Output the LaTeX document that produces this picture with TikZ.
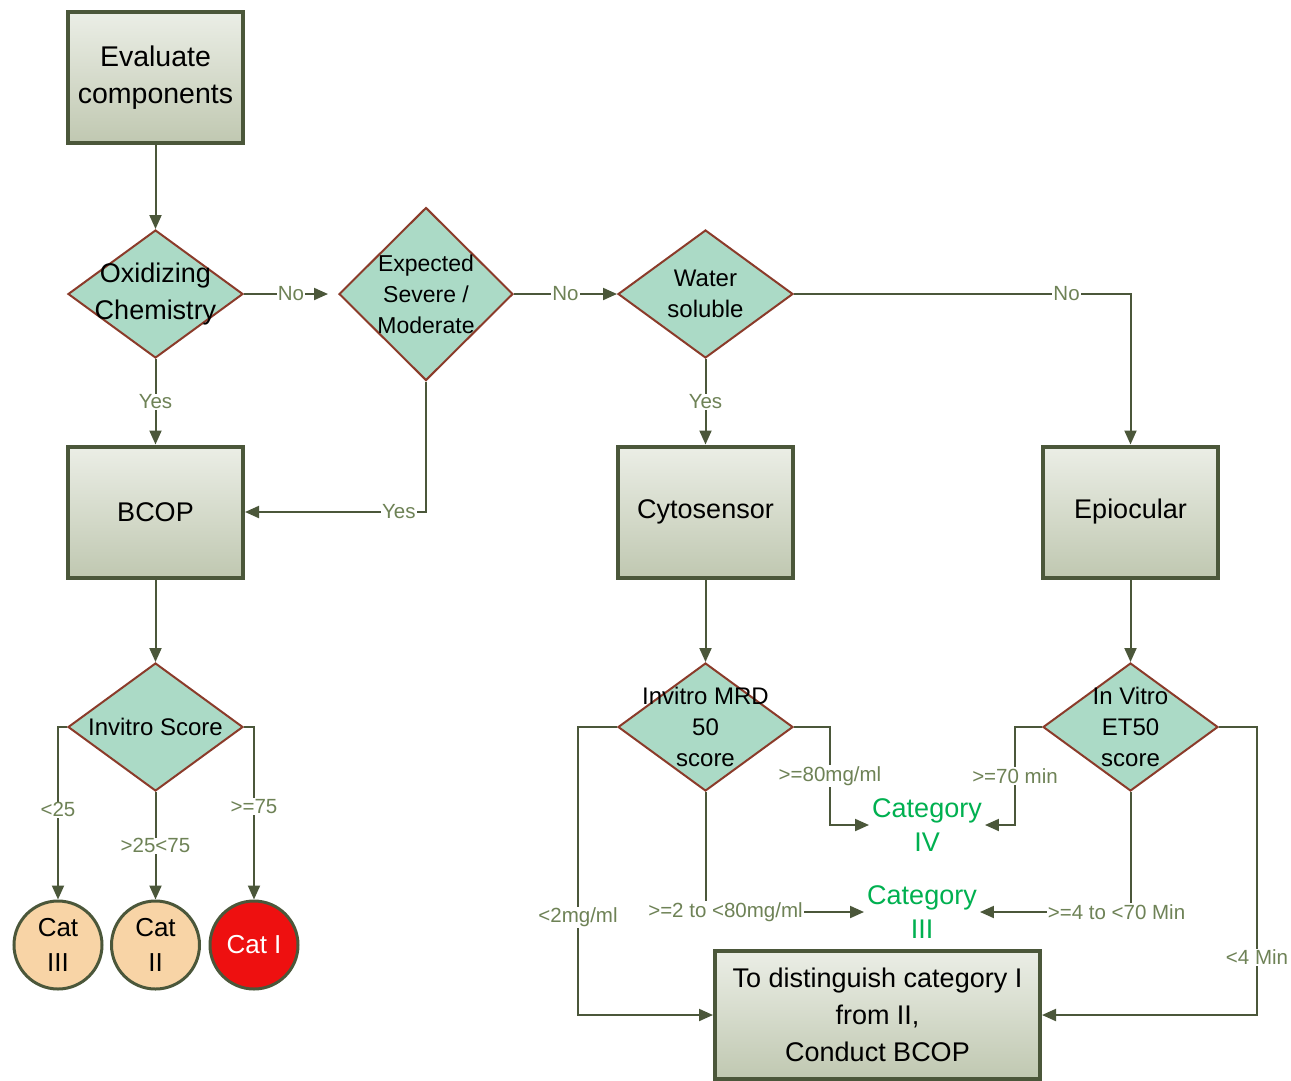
\documentclass[tikz,border=0pt]{standalone}
\usepackage{fontspec}
\setmainfont{Liberation Sans}
\usetikzlibrary{shapes.geometric,arrows.meta,calc}
\definecolor{edgec}{HTML}{4B573A}
\definecolor{labc}{HTML}{6E8256}
\definecolor{boxtop}{HTML}{EBEEE6}
\definecolor{boxbot}{HTML}{C0C8B1}
\definecolor{diac}{HTML}{ABDAC6}
\definecolor{diaedge}{HTML}{8B3B2A}
\definecolor{peach}{HTML}{F8D4A6}
\definecolor{catred}{HTML}{EE1010}
\definecolor{catgreen}{HTML}{00B050}
\newcommand\fsz[2]{\fontsize{#1}{#2}\selectfont}
\tikzset{
 procbox/.style={rectangle, draw=edgec, line width=4pt, top color=boxtop, bottom color=boxbot,
   minimum width=175pt, minimum height=131pt, align=center, inner sep=0pt, font=\fsz{27}{37}},
 decis/.style={diamond, draw=diaedge, line width=2pt, fill=diac, minimum width=175pt,
   minimum height=128pt, inner sep=0pt},
 dtext/.style={align=center, font=\fsz{24}{31}},
 catc/.style={circle, draw=edgec, line width=3pt, minimum size=88pt, inner sep=0pt,
   align=center, font=\fsz{26}{35}},
 arr/.style={draw=edgec, line width=2pt, -{Triangle[length=14pt,width=12pt]}},
 lab/.style={fill=white, text=labc, font=\fsz{20.5}{23}, inner sep=1pt},
 catlab/.style={text=catgreen, align=center, font=\fsz{27}{34}, inner sep=3pt}
}
\begin{document}
\begin{tikzpicture}[x=1pt,y=-1pt]
\useasboundingbox (0,0) rectangle (1291,1080);
% boxes
\node[procbox, font=\fsz{28.5}{37}] (eval) at (155.5,77.5) {Evaluate\\components};
\node[procbox] (bcop) at (155.5,512) {BCOP};
\node[procbox] (cyto) at (705.5,512) {Cytosensor};
\node[procbox] (epi) at (1130.5,512) {Epiocular};
\node[procbox, minimum width=325pt, minimum height=128pt] (dist) at (877.5,1015) {To distinguish category I\\from II,\\Conduct BCOP};
% diamonds
\node[decis] (ox) at (155.5,294) {};
\node[dtext, font=\fsz{27}{37}] (oxt) at (ox.center) {Oxidizing\\Chemistry};
\node[decis, minimum width=174pt, minimum height=173pt] (exp) at (426,294) {};
\node[dtext, font=\fsz{23}{31}] (expt) at (exp.center) {Expected\\Severe /\\Moderate};
\node[decis] (ws) at (705.5,294) {};
\node[dtext] (wst) at (ws.center) {Water\\soluble};
\node[decis] (isc) at (155.5,727) {};
\node[dtext] (isct) at (isc.center) {Invitro Score};
\node[decis] (mrd) at (705.5,727) {};
\node[dtext] (mrdt) at (mrd.center) {Invitro MRD\\50\\score};
\node[decis] (et) at (1130.5,727) {};
\node[dtext] (ett) at (et.center) {In Vitro\\ET50\\score};
% circles
\node[catc, fill=peach] (c3) at (58,945) {Cat\\III};
\node[catc, fill=peach] (c2) at (155.5,945) {Cat\\II};
\node[catc, fill=catred, text=white] (c1) at (254,945) {Cat I};
% category labels
\node[catlab] (cat4) at (927,825) {Category\\IV};
\node[catlab] (cat3) at (922,912) {Category\\III};
% connectors
\draw[arr] (eval.south) -- (ox.north);
\draw[arr, shorten >=10pt] (ox.east) -- node[lab]{No} (exp.west);
\draw[arr] (exp.east) -- node[lab]{No} (ws.west);
\draw[arr] (ws.east) -- node[lab, pos=0.81]{No} (ws.east -| epi.north) -- (epi.north);
\draw[arr] (ox.south) -- node[lab]{Yes} (bcop.north);
\draw[arr] (exp.south) |- node[lab, pos=0.575]{Yes} (bcop.east);
\draw[arr] (ws.south) -- node[lab]{Yes} (cyto.north);
\draw[arr] (bcop.south) -- (isc.north);
\draw[arr] (cyto.south) -- (mrd.north);
\draw[arr] (epi.south) -- (et.north);
\draw[arr] (isc.west) -| node[lab, pos=0.74]{<25} (c3.north);
\draw[arr] (isc.south) -- node[lab]{>25<75} (c2.north);
\draw[arr] (isc.east) -| node[lab, pos=0.73]{>=75} (c1.north);
\draw[arr] (mrd.east) -- ++(36,0) |- node[lab, pos=0.25]{>=80mg/ml} (cat4.west);
\draw[arr] (et.west) -- ++(-27,0) |- node[lab, pos=0.25]{>=70 min} (cat4.east);
\draw[arr] (mrd.west) -- ++(-39,0) |- node[lab, pos=0.33]{<2mg/ml} (dist.west);
\draw[arr] (et.east) -- ++(38,0) |- node[lab, pos=0.40]{<4 Min} (dist.east);
\draw[arr] (mrd.south) |- node[lab, pos=0.5, xshift=20pt]{>=2 to <80mg/ml} (cat3.west);
\draw[arr] (et.south) |- node[lab, pos=0.5, xshift=-14pt]{>=4 to <70 Min} (cat3.east);
\end{tikzpicture}
\end{document}
